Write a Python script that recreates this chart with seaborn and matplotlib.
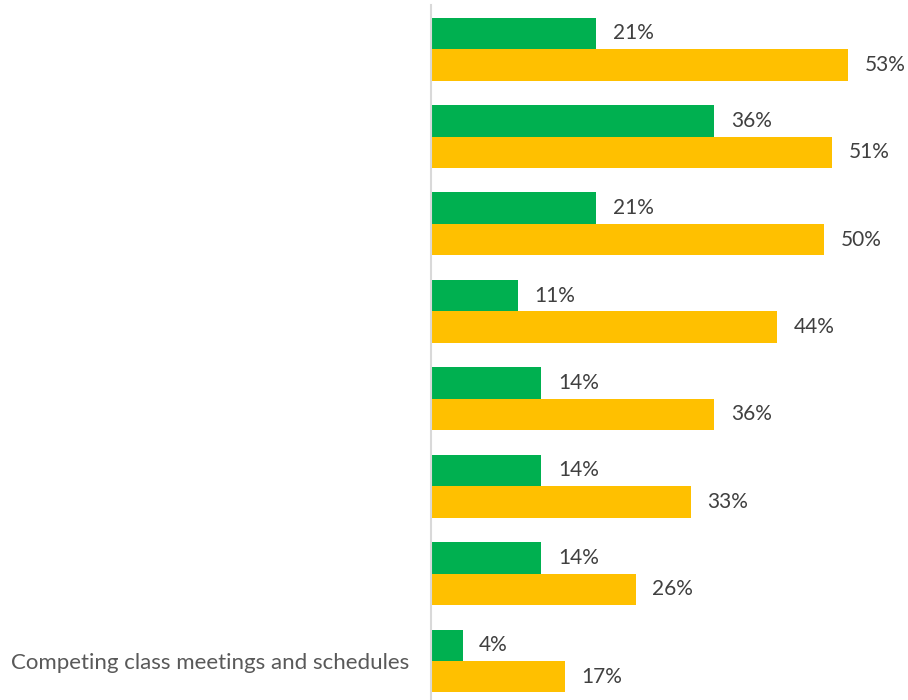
import pandas as pd
import numpy as np
import matplotlib
matplotlib.use('Agg')
import matplotlib.pyplot as plt
import seaborn as sns

# data
categories = ['c1', 'c2', 'c3', 'c4', 'c5', 'c6', 'c7', 'c8']
tick_labels = ['', '', '', '', '', '', '', 'Competing class meetings and schedules']
series_names = ['Series 1', 'Series 2']
green_vals = [21, 36, 21, 11, 14, 14, 14, 4]
yellow_vals = [53, 51, 50, 44, 36, 33, 26, 17]

df = pd.DataFrame({
    'category': categories * 2,
    'series': [series_names[0]] * len(categories) + [series_names[1]] * len(categories),
    'value': green_vals + yellow_vals,
})

sns.set_style('white')
plt.rcParams['font.family'] = ['Lato', 'DejaVu Sans']

fig = plt.figure(figsize=(9.08, 7), dpi=100)
ax = fig.add_axes([0.4747, -0.0067, 0.52, 0.999])

sns.barplot(data=df, y='category', x='value', hue='series', orient='h',
            palette=['#00b050', '#ffc000'], width=0.72, saturation=1,
            linewidth=0, ax=ax, legend=False)

for cont in ax.containers:
    ax.bar_label(cont, labels=[f'{v:.0f}%' for v in cont.datavalues],
                 padding=12, fontsize=15, color='#404040', clip_on=False)

ax.set_xlim(0, 60)
ax.set_ylim(7.5, -0.5)
ax.set_yticks(range(len(categories)))
ax.set_yticklabels(tick_labels, fontsize=16, color='#595959')
ax.tick_params(axis='y', length=0, pad=16)
ax.set_xticks([])
ax.set_xlabel('')
ax.set_ylabel('')
for s in ['top', 'right', 'bottom']:
    ax.spines[s].set_visible(False)
ax.spines['left'].set_color('#d9d9d9')
ax.spines['left'].set_linewidth(1.5)

fig.savefig('out.png', dpi=100)
